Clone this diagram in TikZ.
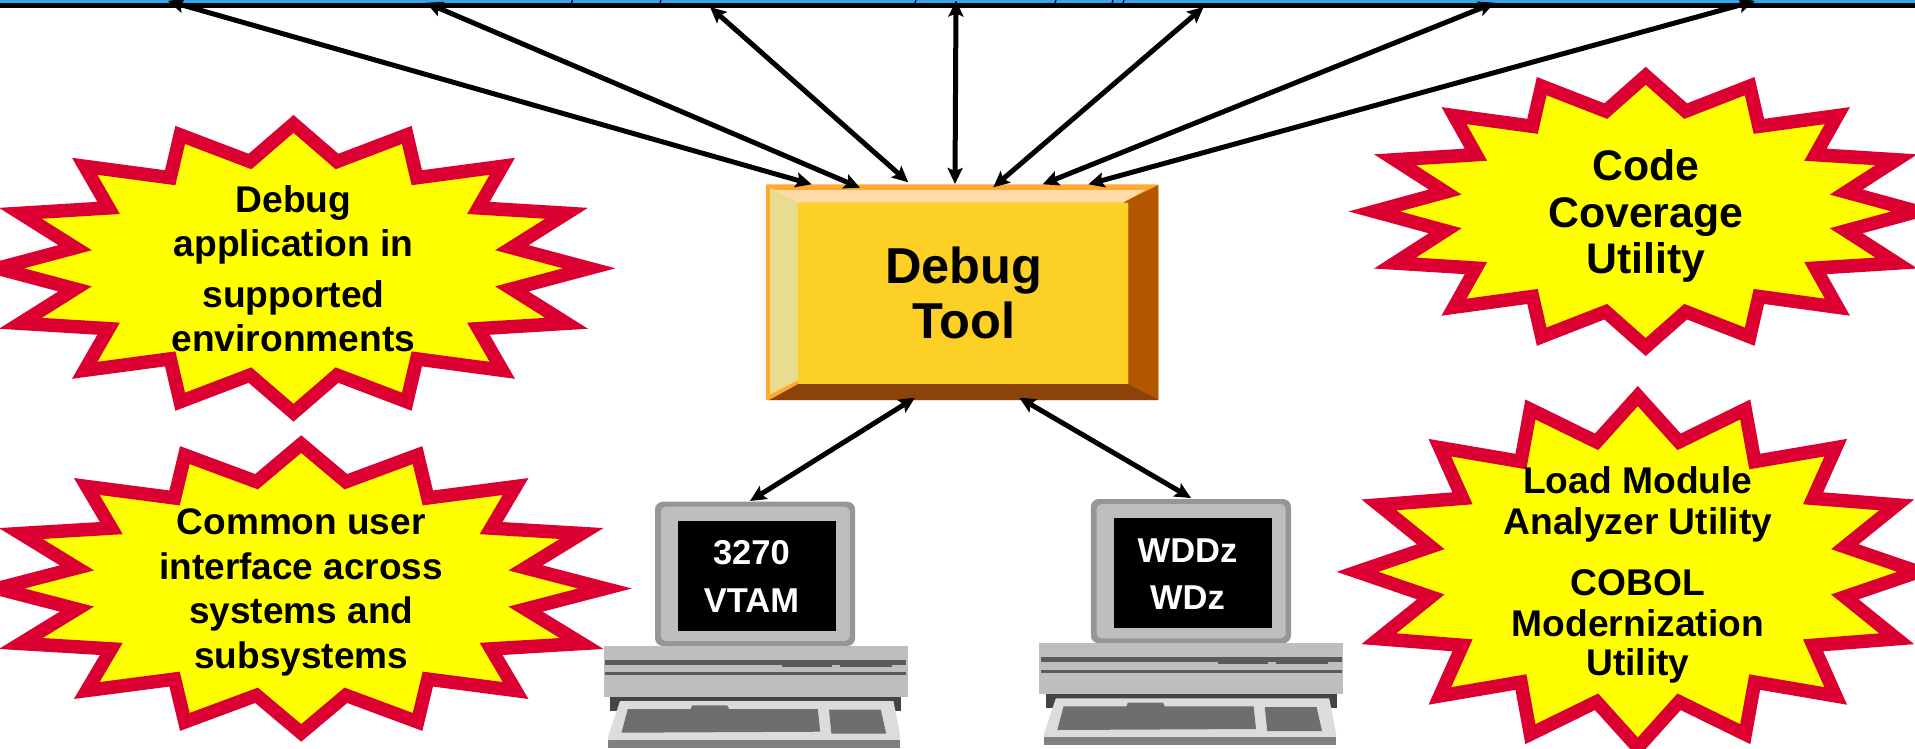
\documentclass[tikz,border=0pt]{standalone}
\usepackage{fontspec}
\setmainfont{Liberation Sans}
\usetikzlibrary{arrows.meta}
\definecolor{burstred}{RGB}{220,0,50}
\definecolor{burstfill}{RGB}{255,255,0}
\definecolor{busblue}{RGB}{51,166,238}
\definecolor{boxface}{RGB}{252,208,37}
\definecolor{boxedge}{RGB}{255,169,48}
\definecolor{boxtop}{RGB}{254,219,168}
\definecolor{boxleft}{RGB}{232,220,144}
\definecolor{boxright}{RGB}{178,87,0}
\definecolor{boxbottom}{RGB}{139,67,10}
\definecolor{pcframe}{RGB}{150,150,150}
\definecolor{pcbody}{RGB}{190,190,190}
\definecolor{pcstripe}{RGB}{90,90,90}
\definecolor{pcstand}{RGB}{68,68,68}
\definecolor{pckey}{RGB}{220,220,220}
\definecolor{pckeys}{RGB}{110,110,110}
\definecolor{pcfront}{RGB}{128,128,128}
\tikzset{
  burst/.style={draw=burstred,fill=burstfill,line width=13.5pt,line join=miter,miter limit=10},
  bursttext/.style n args={2}{inner sep=0pt,align=center,font=\bfseries\fontsize{#1}{#2}\selectfont},
  link/.style={line width=5pt,{Stealth[length=16pt,width=15pt,inset=3pt]}-{Stealth[length=16pt,width=15pt,inset=3pt]}},
  screentext/.style={text=white,inner sep=0pt,align=center,font=\bfseries\fontsize{34.5}{47.5}\selectfont},
  bustick/.style={line width=1.2pt,black}
}
\newcommand{\burstpath}{(0,-144.4)--(43.5,-106.8)--(113.3,-133.4)--(123.3,-90.6)--(208.8,-102)--(184.9,-60.4)--(273.1,-55)--(218.4,-20.6)--(295.7,0)
  --(218.4,20.6)--(273.1,55)--(184.9,60.4)--(208.8,102)--(123.3,90.6)--(113.3,133.4)--(43.5,106.8)--(0,144.4)
  --(-43.5,106.8)--(-113.3,133.4)--(-123.3,90.6)--(-208.8,102)--(-184.9,60.4)--(-273.1,55)--(-218.4,20.6)--(-295.7,0)
  --(-218.4,-20.6)--(-273.1,-55)--(-184.9,-60.4)--(-208.8,-102)--(-123.3,-90.6)--(-113.3,-133.4)--(-43.5,-106.8)--cycle}
\newcommand{\computerart}{%
  \fill[pcframe,rounded corners=8pt] (655,501.7) rectangle (855.2,646);
  \fill[pcbody,rounded corners=5pt] (660.8,506.7) rectangle (849.8,641);
  \fill[black] (677.7,521) rectangle (835.8,631);
  \fill[pcbody] (603.6,646) rectangle (907.5,696.7);
  \fill[pcstripe] (605,659.7) rectangle (906,665);
  \fill[pcstripe] (605,672.3) rectangle (906,675.3);
  \fill[pcstripe] (782,665) rectangle (832,666.7);
  \fill[pcstripe] (840,665) rectangle (892,666.7);
  \fill[pcstand] (610,696.7) rectangle (901,711);
  \fill[pckey] (620,701)--(893.4,701)--(900.2,736)--(900.2,740)--(608,740)--(608.4,736)--cycle;
  \fill[pcfront] (608,740) rectangle (900.2,748);
  \fill[pckeys] (627.8,709)--(690.8,709)--(692,705.3)--(727.2,705.3)--(729,709)--(817.8,709)--(820.2,731.7)--(621.5,732.7)--cycle;
  \fill[pckeys] (829,709.7)--(880.8,709.7)--(886.2,733.7)--(831.4,733.7)--cycle;
}
\begin{document}
\begin{tikzpicture}[x=1pt,y=-1pt]
\useasboundingbox (0,0) rectangle (1915,748);
\clip (0,0) rectangle (1915,748);
\fill[white] (0,0) rectangle (1915,748);
% bus
\fill[busblue] (0,0) rectangle (1915,3);
\fill[black] (0,3) rectangle (1915,8);
\foreach \tx in {571.5,660,915,1055,1112,1123} \draw[bustick] (\tx+1,0) -- (\tx,3);
\coordinate (bus1) at (168,1);
\coordinate (bus2) at (426,2.7);
\coordinate (bus3) at (710,7);
\coordinate (bus4) at (956,0.5);
\coordinate (bus5) at (1203.6,7);
\coordinate (bus6) at (1494.7,2.7);
\coordinate (bus7) at (1754.8,1);
% bursts
\draw[burst,shift={(293.5,268.3)}] \burstpath;
\draw[burst,shift={(301.2,588.5)},xscale=1.027] \burstpath;
\draw[burst,shift={(1645.7,211.4)},xscale=.918,yscale=.939] \burstpath;
\draw[burst,shift={(1637.8,571.8)},xscale=.948,yscale=1.217] \burstpath;
\node[bursttext={37.2}{44}] (s1) at (293.5,269) {Debug\\application in\\[7pt]supported\\environments};
\node[bursttext={37}{44.5}] (s2) at (301.2,592.5) {Common user\\interface across\\systems and\\subsystems};
\node[bursttext={42.8}{46.8}] (s3) at (1645.7,216) {Code\\Coverage\\Utility};
\node[bursttext={37.2}{41}] (s4) at (1637.8,575) {Load Module\\Analyzer Utility\\[20pt]COBOL\\Modernization\\[-2pt]Utility};
% debug tool box
\fill[boxedge,rounded corners=1pt] (766,184.3) rectangle (1158.3,400);
\fill[boxright] (1158.3,185)--(1122.7,202.7)--(1128.3,202.7)--(1128.3,384)--(1158.3,399.3)--cycle;
\fill[boxbottom] (769.3,400)--(798.3,384)--(1128.3,384)--(1158.3,399.3)--(1158.3,400)--cycle;
\fill[boxleft] (770,187.3)--(798.3,202.7)--(798.3,380)--(770,394.3)--cycle;
\fill[boxtop] (773.3,190)--(1145,190)--(1122.7,202.7)--(798.3,202.7)--cycle;
\fill[boxface] (798.3,202.7) rectangle (1128.3,384);
\node[inner sep=0pt,align=center,font=\bfseries\fontsize{50.5}{54.4}\selectfont] (debug) at (964,293) {Debug\\Tool};
\coordinate (box1) at (811.7,184.3);
\coordinate (box2) at (860,187.7);
\coordinate (box3) at (908.3,182.3);
\coordinate (box4) at (955,184);
\coordinate (box5) at (993.3,187.3);
\coordinate (box6) at (1042.7,184.3);
\coordinate (box7) at (1088.3,184.3);
\coordinate (box8) at (915,397.7);
\coordinate (box9) at (1019.3,397.7);
% computers
\computerart
\begin{scope}[shift={(435.8,-2.7)}]\computerart\end{scope}
\node[screentext] (pcA) at (751.4,576.2) {3270\\VTAM};
\node[screentext] (pcB) at (1187.5,574) {WDDz\\WDz};
\coordinate (monA) at (750,501);
\coordinate (monB) at (1191,498);
% connectors
\foreach \i in {1,...,7} \draw[link] (bus\i) -- (box\i);
\draw[link] (box8) -- (monA);
\draw[link] (box9) -- (monB);
\end{tikzpicture}
\end{document}
